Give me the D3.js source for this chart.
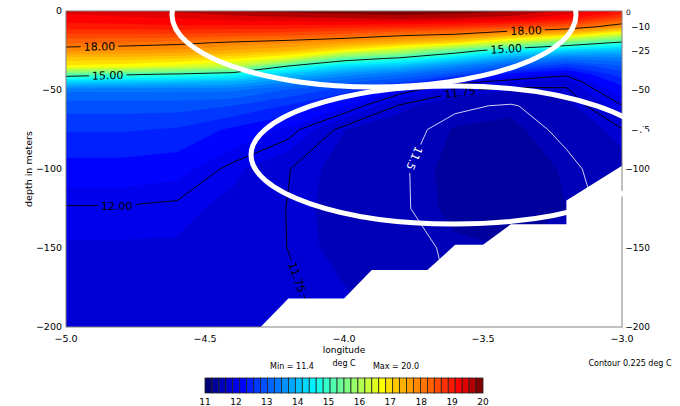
<!DOCTYPE html>
<html>
<head>
<meta charset="utf-8">
<script src="https://cdn.jsdelivr.net/npm/d3@7"></script>
<style>
  body { margin: 0; background: #fff; }
  svg { display: block; }
  text { font-family: "DejaVu Sans", sans-serif; fill: #000; }
</style>
</head>
<body>
<svg id="chart" width="680" height="406"></svg>
<script>
// grid: longitude (deg E) and depth (m)
var lons = [-5.0, -4.8, -4.6, -4.4, -4.2, -4.0, -3.8, -3.6, -3.4, -3.2, -3.0];
var depths = [0, 5, 10, 15, 20, 25, 30, 35, 40, 45, 50, 60, 75, 100, 125, 150, 175, 200];

// temperature profile (deg C) at each longitude, surface to 200 m
var temp = [
  [19.4, 19.2, 19.0, 18.6, 18.25, 17.8, 17.2, 16.8, 15.3, 14.2, 13.3, 12.9, 12.6, 12.25, 11.98, 11.88, 11.85, 11.82],
  [19.5, 19.25, 19.0, 18.6, 18.2, 17.75, 17.2, 16.7, 15.1, 14.1, 13.3, 12.9, 12.6, 12.25, 11.98, 11.88, 11.85, 11.82],
  [19.6, 19.3, 19.05, 18.6, 18.1, 17.7, 17.1, 16.5, 14.95, 14.0, 13.3, 12.9, 12.55, 12.2, 11.95, 11.88, 11.85, 11.82],
  [19.75, 19.4, 19.0, 18.55, 17.95, 17.5, 16.9, 16.2, 14.7, 13.9, 13.3, 12.8, 12.3, 11.94, 11.85, 11.82, 11.8, 11.8],
  [19.85, 19.45, 19.0, 18.5, 17.8, 17.3, 16.5, 14.95, 14.1, 13.5, 13.0, 12.55, 12.08, 11.755, 11.745, 11.748, 11.77, 11.8],
  [19.95, 19.5, 18.95, 18.35, 17.6, 16.8, 15.3, 14.3, 13.6, 13.1, 12.7, 12.15, 11.68, 11.62, 11.6, 11.62, 11.68, 11.7],
  [20.0, 19.55, 18.9, 18.1, 17.35, 16.2, 14.9, 14.0, 13.3, 12.8, 12.1, 11.73, 11.56, 11.52, 11.52, 11.56, 11.6, 11.6],
  [19.95, 19.5, 18.8, 17.95, 17.0, 15.35, 14.3, 13.5, 12.9, 12.08, 11.8, 11.53, 11.44, 11.41, 11.42, 11.47, 11.48, 11.48],
  [19.8, 19.4, 18.6, 17.5, 16.2, 14.6, 13.7, 13.0, 12.25, 11.9, 11.68, 11.48, 11.42, 11.4, 11.42, 11.45, 11.45, 11.45],
  [19.5, 19.1, 18.35, 17.1, 15.5, 14.2, 13.3, 12.6, 12.05, 11.82, 11.72, 11.62, 11.54, 11.46, 11.45, 11.45, 11.45, 11.45],
  [19.1, 18.5, 17.7, 16.3, 14.9, 14.0, 13.4, 13.0, 12.7, 12.45, 12.25, 11.99, 11.74, 11.6, 11.55, 11.55, 11.55, 11.55]
];

// sea floor (masked cells), outline in lon / depth
var landLon = [-4.3, -4.2, -4.0, -3.9, -3.7, -3.6, -3.5, -3.4, -3.2, -3.2, -3.0, -3.0];
var landDepth = [200, 182, 182, 164, 164, 148, 148, 135, 135, 120, 98, 200];

// fill levels and contour lines
var levelMin = 11, levelMax = 20, levelStep = 0.225;
var lineLevels = [11.5, 11.75, 12, 15, 18];
var contourLabels = [
  {level: 18, text: "18.00", lon: -4.88, depth: 20},
  {level: 18, text: "18.00", lon: -3.345, depth: 14},
  {level: 15, text: "15.00", lon: -4.85, depth: 40},
  {level: 15, text: "15.00", lon: -3.417, depth: 23},
  {level: 12, text: "12.00", lon: -4.817, depth: 121},
  {level: 11.75, text: "11.75", lon: -4.16, depth: 168},
  {level: 11.75, text: "11.75", lon: -3.583, depth: 51},
  {level: 11.5, text: "11.5", lon: -3.763, depth: 92, flip: true}
];

// axis ticks
var lonTicks = [-5.0, -4.5, -4.0, -3.5, -3.0];
var depthTicks = [0, -50, -100, -150, -200];
var rightTicks = [-10, -25, -50, -75, -100, -150, -200];
var barTicks = [11, 12, 13, 14, 15, 16, 17, 18, 19, 20];

// palette (by colour cell index)
var palIdx = [0, 1, 2, 3, 4, 5, 6, 8, 10, 12, 14, 15, 16, 18, 20, 22, 24, 25, 26, 28, 30, 32, 34, 36, 37, 38, 39];
var palCol = ["#000078","#00009c","#0000b8","#0000d4","#0000ec","#0004ff","#0020ff","#0050ff","#0078ff","#00a8ff",
  "#00d8ff","#00f0ff","#18ffe8","#50ffb0","#80ff80","#b0ff50","#e0ff20","#ffff00","#ffe000","#ffb000",
  "#ff8800","#ff6000","#ff3000","#ff0000","#e00000","#b00000","#800000"];
var cellColor = d3.scaleLinear().domain(palIdx).range(palCol);

var svg = d3.select("#chart");
var x = d3.scaleLinear().domain([-5, -3]).range([66, 622]);
var y = d3.scaleLinear().domain([-200, 0]).range([327, 11]);

var n = lons.length, m = depths.length;
var values = [];
for (var j = 0; j < m; j++)
  for (var i = 0; i < n; i++) values.push(temp[i][j]);

var gx = d3.scaleLinear().domain([0, n - 1]).range([lons[0], lons[n - 1]]).clamp(true);
var gy = d3.scaleLinear().domain(d3.range(m)).range(depths).clamp(true);
function px(p) { return [x(gx(p[0] - 0.5)), y(-gy(p[1] - 0.5))]; }

var defs = svg.append("defs");
defs.append("clipPath").attr("id", "plotclip")
  .append("rect").attr("x", 66).attr("y", 11).attr("width", 556).attr("height", 316);

var plot = svg.append("g").attr("clip-path", "url(#plotclip)");

// filled bands
var levels = d3.range(40).map(function(k) { return levelMin + k * levelStep; });
var bands = d3.contours().size([n, m]).thresholds(levels)(values);
function ringPath(ring) {
  return "M" + ring.map(function(p) { return px(p).join(","); }).join("L") + "Z";
}
plot.selectAll("path.band")
  .data(bands)
  .join("path")
  .attr("class", "band")
  .attr("fill-rule", "evenodd")
  .attr("fill", function(d, k) { return cellColor(k); })
  .attr("d", function(d) {
    return d.coordinates.map(function(poly) { return poly.map(ringPath).join(""); }).join("");
  });

// contour lines
function edgeOf(p) {
  var e = [];
  if (p[0] - 0.5 <= 0) e.push("l");
  if (p[0] - 0.5 >= n - 1) e.push("r");
  if (p[1] - 0.5 <= 0) e.push("t");
  if (p[1] - 0.5 >= m - 1) e.push("b");
  return e;
}
function sameEdge(a, b) {
  var ea = edgeOf(a), eb = edgeOf(b);
  return ea.some(function(e) { return eb.indexOf(e) >= 0; });
}
var lineSegs = {};
var lineData = lineLevels.map(function(level) {
  var c = d3.contours().size([n, m]).thresholds([level])(values)[0];
  var d = "", segs = [], last = null;
  c.coordinates.forEach(function(poly) {
    poly.forEach(function(ring) {
      for (var s = 0; s < ring.length - 1; s++) {
        var a = ring[s], b = ring[s + 1];
        if (sameEdge(a, b)) { last = null; continue; }
        var pa = px(a), pb = px(b);
        if (last && last[0] === pa[0] && last[1] === pa[1]) d += "L" + pb;
        else d += "M" + pa + "L" + pb;
        last = pb;
        segs.push([pa, pb]);
      }
      last = null;
    });
  });
  lineSegs[level] = segs;
  return {level: level, d: d};
});

// label positions along the lines
contourLabels.forEach(function(lb) {
  var tx = x(lb.lon), ty = y(-lb.depth), best = null;
  lineSegs[lb.level].forEach(function(s) {
    var ax = s[0][0], ay = s[0][1], bx = s[1][0], by = s[1][1];
    var dx = bx - ax, dy = by - ay, L = dx * dx + dy * dy;
    var t = L ? Math.max(0, Math.min(1, ((tx - ax) * dx + (ty - ay) * dy) / L)) : 0;
    var qx = ax + t * dx, qy = ay + t * dy;
    var dist = (qx - tx) * (qx - tx) + (qy - ty) * (qy - ty);
    if (!best || dist < best.dist) {
      var ang = Math.atan2(dy, dx) * 180 / Math.PI;
      if (ang > 90) ang -= 180;
      if (ang <= -90) ang += 180;
      best = {dist: dist, x: qx, y: qy, ang: ang};
    }
  });
  lb.x = best.x; lb.y = best.y; lb.ang = best.ang + (lb.flip && best.ang < 0 ? 180 : 0);
});

var labelG = svg.append("g").attr("clip-path", "url(#plotclip)");
var labelText = labelG.selectAll("text")
  .data(contourLabels)
  .join("text")
  .attr("transform", function(d) { return "translate(" + d.x + "," + d.y + ") rotate(" + d.ang + ")"; })
  .attr("text-anchor", "middle")
  .attr("dy", "0.36em")
  .style("font-size", "11px")
  .style("fill", function(d) { return d.level === 11.5 ? "#fff" : "#000"; })
  .text(function(d) { return d.text; });

var mask = defs.append("mask").attr("id", "lblmask")
  .attr("maskUnits", "userSpaceOnUse")
  .attr("x", 0).attr("y", 0).attr("width", 680).attr("height", 406);
mask.append("rect").attr("width", 680).attr("height", 406).attr("fill", "#fff");
labelText.each(function(d) {
  var w = this.getComputedTextLength() + 6;
  mask.append("rect")
    .attr("x", -w / 2).attr("y", -6).attr("width", w).attr("height", 12)
    .attr("fill", "#000")
    .attr("transform", "translate(" + d.x + "," + d.y + ") rotate(" + d.ang + ")");
});

plot.append("g")
  .attr("mask", "url(#lblmask)")
  .selectAll("path.cline")
  .data(lineData)
  .join("path")
  .attr("class", "cline")
  .attr("fill", "none")
  .attr("stroke", function(d) { return d.level === 11.5 ? "#e8e8ff" : "#000"; })
  .attr("stroke-width", 0.9)
  .attr("d", function(d) { return d.d; });

labelG.raise();

// sea floor
svg.append("g").attr("clip-path", "url(#plotclip)")
  .append("path")
  .attr("fill", "#fff")
  .attr("d", d3.line()(landLon.map(function(l, k) { return [x(l), y(-landDepth[k])]; })) + "Z");

// frame
svg.append("rect")
  .attr("x", 66).attr("y", 11).attr("width", 556).attr("height", 316)
  .attr("fill", "none").attr("stroke", "#808080").attr("stroke-width", 1);

// axes labels
var fmtLon = d3.format(".1f"), fmtDep = d3.format("d");
svg.append("g").selectAll("text")
  .data(lonTicks).join("text")
  .attr("x", function(d) { return x(d); })
  .attr("y", 342)
  .attr("text-anchor", "middle")
  .style("font-size", "9.5px")
  .text(fmtLon);

svg.append("g").selectAll("text")
  .data(depthTicks).join("text")
  .attr("x", 62)
  .attr("y", function(d) { return y(d); })
  .attr("dy", "0.35em")
  .attr("text-anchor", "end")
  .style("font-size", "9.5px")
  .text(fmtDep);

svg.append("text")
  .attr("x", 626).attr("y", 15)
  .style("font-size", "7.5px")
  .text("0");
svg.append("g").selectAll("text")
  .data(rightTicks).join("text")
  .attr("x", 650)
  .attr("y", function(d) { return y(d); })
  .attr("dy", "0.35em")
  .attr("text-anchor", "end")
  .style("font-size", "9px")
  .text(fmtDep);

svg.append("text")
  .attr("x", 344).attr("y", 353)
  .attr("text-anchor", "middle")
  .style("font-size", "9px")
  .text("longitude");
svg.append("text")
  .attr("transform", "translate(32,169) rotate(-90)")
  .attr("text-anchor", "middle")
  .style("font-size", "9.5px")
  .text("depth in meters");

// colour bar
var cb = d3.scaleLinear().domain([levelMin, levelMax]).range([205, 483]);
var bar = svg.append("g");
bar.selectAll("rect")
  .data(levels).join("rect")
  .attr("x", function(d) { return cb(d); })
  .attr("y", 378)
  .attr("width", function(d) { return cb(d + levelStep) - cb(d); })
  .attr("height", 15)
  .attr("fill", function(d, k) { return cellColor(k); })
  .attr("stroke", "#222")
  .attr("stroke-width", 0.8);
bar.selectAll("text")
  .data(barTicks).join("text")
  .attr("x", function(d) { return cb(d); })
  .attr("y", 405)
  .attr("text-anchor", "middle")
  .style("font-size", "9px")
  .text(function(d) { return d; });

var fmt1 = d3.format(".1f");
svg.append("text").attr("x", 292).attr("y", 369).attr("text-anchor", "middle")
  .style("font-size", "8px").text("Min = " + fmt1(d3.min(values)));
svg.append("text").attr("x", 344).attr("y", 366).attr("text-anchor", "middle")
  .style("font-size", "8px").text("deg C");
svg.append("text").attr("x", 396).attr("y", 369).attr("text-anchor", "middle")
  .style("font-size", "8px").text("Max = " + fmt1(d3.max(values)));
svg.append("text").attr("x", 630).attr("y", 366).attr("text-anchor", "middle")
  .style("font-size", "8px").text("Contour " + levelStep + " deg C");

// highlight ellipses
svg.append("ellipse")
  .attr("cx", 374).attr("cy", 15).attr("rx", 202).attr("ry", 72)
  .attr("fill", "none").attr("stroke", "#fff").attr("stroke-width", 5);
svg.append("ellipse")
  .attr("cx", 454).attr("cy", 155).attr("rx", 203).attr("ry", 69)
  .attr("fill", "none").attr("stroke", "#fff").attr("stroke-width", 5);
</script>
</body>
</html>
